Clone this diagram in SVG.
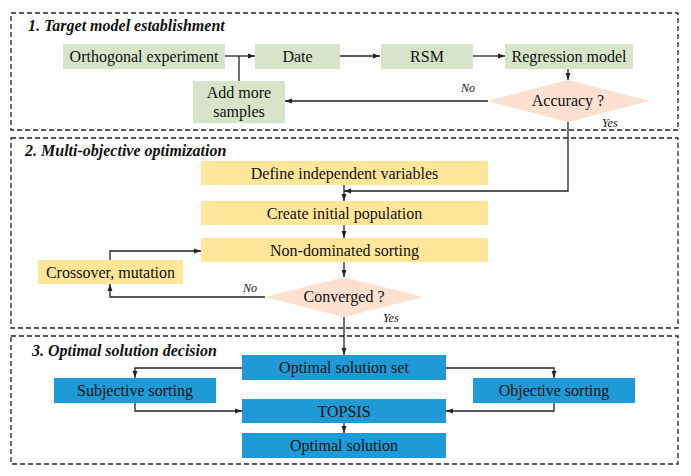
<svg xmlns="http://www.w3.org/2000/svg" width="691" height="476" viewBox="0 0 691 476">
<defs>
<marker id="a" viewBox="0 0 10 10" refX="10" refY="5" markerWidth="7" markerHeight="7" orient="auto" markerUnits="userSpaceOnUse">
<path d="M0,1.5 L10,5 L0,8.5 z" fill="#222"/>
</marker>
</defs>
<rect width="691" height="476" fill="#fff"/>
<g id="sections" fill="none" stroke="#222" stroke-width="1.3" stroke-dasharray="5,3">
<rect x="11" y="13" width="667" height="117"/>
<rect x="11" y="138" width="667" height="190"/>
<rect x="11" y="336" width="667" height="128"/>
</g>
<g id="titles" font-size="16" font-weight="bold" font-style="italic" fill="#111">
<text x="28" y="31" font-family="Liberation Serif">1. Target model establishment</text>
<text x="25" y="156" font-family="Liberation Serif">2. Multi-objective optimization</text>
<text x="32" y="356" font-family="Liberation Serif">3. Optimal solution decision</text>
</g>
<g id="connectors" fill="none" stroke="#222" stroke-width="1.3">
<path d="M225,56 H255" marker-end="url(#a)"/>
<path d="M239,81 V56"/>
<path d="M340,56 H380" marker-end="url(#a)"/>
<path d="M473,56 H505" marker-end="url(#a)"/>
<path d="M568,69 V80" marker-end="url(#a)"/>
<path d="M488,101 H285" marker-end="url(#a)"/>
<path d="M568,122 V191 H344" marker-end="url(#a)"/>
<path d="M344,185 V201" marker-end="url(#a)"/>
<path d="M344,225 V238" marker-end="url(#a)"/>
<path d="M344,262 V277" marker-end="url(#a)"/>
<path d="M265,297 H110 V284" marker-end="url(#a)"/>
<path d="M110,260 V251 H201" marker-end="url(#a)"/>
<path d="M344,317 V355" marker-end="url(#a)"/>
<path d="M242,368 H135 V378" marker-end="url(#a)"/>
<path d="M446,368 H554 V378" marker-end="url(#a)"/>
<path d="M135,403 V411 H242" marker-end="url(#a)"/>
<path d="M554,403 V411 H446" marker-end="url(#a)"/>
<path d="M344,423 V433" marker-end="url(#a)"/>
<g stroke="none" fill="#111" font-size="12" font-style="italic">
<text x="461" y="92" font-family="Liberation Serif">No</text>
<text x="602" y="127" font-family="Liberation Serif">Yes</text>
<text x="243" y="292" font-family="Liberation Serif">No</text>
<text x="383" y="322" font-family="Liberation Serif">Yes</text>
</g>
</g>
<g id="nodes" font-size="16" text-anchor="middle">
<g fill="#d8e4ca">
<g id="orthogonal"><rect x="63" y="44" width="162" height="25"/><text font-family="Liberation Serif" fill="#111" x="144" y="62">Orthogonal experiment</text></g>
<g id="date"><rect x="255" y="44" width="85" height="25"/><text font-family="Liberation Serif" fill="#111" x="297.5" y="62">Date</text></g>
<g id="rsm"><rect x="381" y="44" width="92" height="25"/><text font-family="Liberation Serif" fill="#111" x="427" y="62">RSM</text></g>
<g id="regression"><rect x="505" y="44" width="128" height="25"/><text font-family="Liberation Serif" fill="#111" x="569" y="62">Regression model</text></g>
<g id="addsamples"><rect x="193" y="81" width="92" height="42"/><text font-family="Liberation Serif" fill="#111" x="239" y="98">Add more</text><text font-family="Liberation Serif" fill="#111" x="239" y="117">samples</text></g>
</g>
<g fill="#fce0d0">
<g id="accuracy"><polygon points="568,80 650,101 568,122 487,101"/><text font-family="Liberation Serif" fill="#111" x="568" y="106">Accuracy ?</text></g>
<g id="converged"><polygon points="344,277 423,297 344,317 265,297"/><text font-family="Liberation Serif" fill="#111" x="344" y="302">Converged ?</text></g>
</g>
<g fill="#ffe699">
<g id="define"><rect x="201" y="161" width="287" height="24"/><text font-family="Liberation Serif" fill="#111" x="344.5" y="179">Define independent variables</text></g>
<g id="create"><rect x="201" y="201" width="287" height="24"/><text font-family="Liberation Serif" fill="#111" x="344.5" y="219">Create initial population</text></g>
<g id="nondominated"><rect x="201" y="238" width="287" height="24"/><text font-family="Liberation Serif" fill="#111" x="344.5" y="256">Non-dominated sorting</text></g>
<g id="crossover"><rect x="38" y="260" width="145" height="24"/><text font-family="Liberation Serif" fill="#111" x="110.5" y="278">Crossover, mutation</text></g>
</g>
<g fill="#1e9ad6">
<g id="solutionset"><rect x="242" y="355" width="204" height="25"/><text font-family="Liberation Serif" fill="#111" x="344" y="373">Optimal solution set</text></g>
<g id="subjective"><rect x="54" y="378" width="162" height="25"/><text font-family="Liberation Serif" fill="#111" x="135" y="396">Subjective sorting</text></g>
<g id="objective"><rect x="473" y="378" width="162" height="25"/><text font-family="Liberation Serif" fill="#111" x="554" y="396">Objective sorting</text></g>
<g id="topsis"><rect x="242" y="399" width="204" height="24"/><text font-family="Liberation Serif" fill="#111" x="344" y="417">TOPSIS</text></g>
<g id="optimal"><rect x="242" y="433" width="204" height="25"/><text font-family="Liberation Serif" fill="#111" x="344" y="451">Optimal solution</text></g>
</g>
</g>
</svg>
